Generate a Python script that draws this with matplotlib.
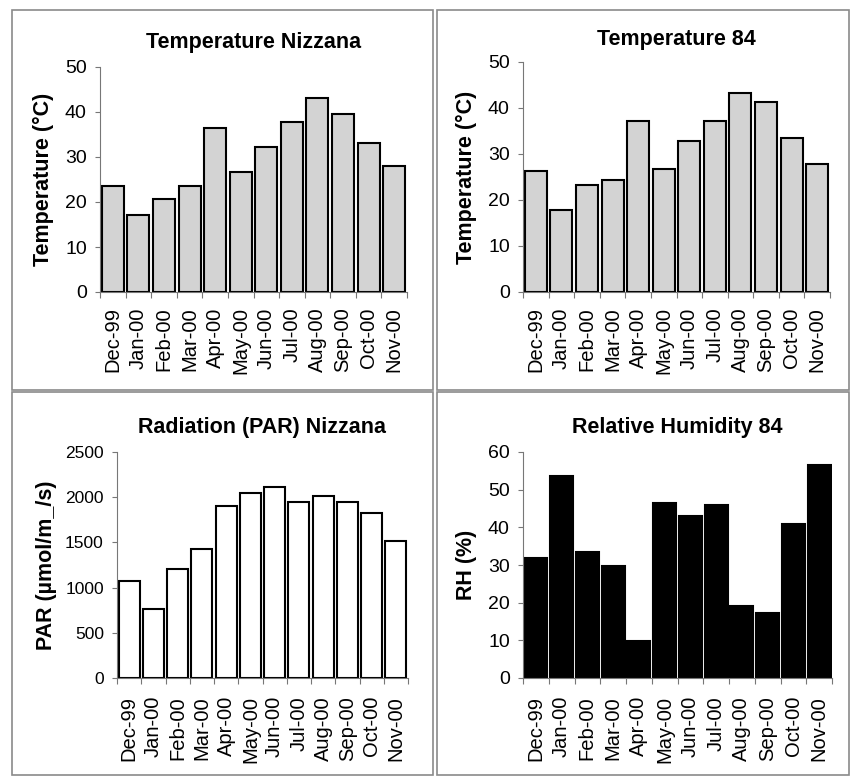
import matplotlib
matplotlib.use("Agg")
import matplotlib.pyplot as plt
from matplotlib.patches import Rectangle

plt.rcParams['font.family'] = ['Liberation Sans', 'DejaVu Sans']

# -------------------- data --------------------
months = ["Dec-99", "Jan-00", "Feb-00", "Mar-00", "Apr-00", "May-00",
          "Jun-00", "Jul-00", "Aug-00", "Sep-00", "Oct-00", "Nov-00"]
temp_nizzana = [23.5, 17.2, 20.6, 23.5, 36.5, 26.6, 32.2, 37.8, 43.2, 39.6, 33.1, 27.9]
temp_84 = [26.4, 17.9, 23.3, 24.3, 37.2, 26.7, 32.9, 37.2, 43.3, 41.3, 33.5, 27.8]
par_nizzana = [1072, 762, 1209, 1427, 1905, 2045, 2108, 1945, 2015, 1945, 1823, 1513]
rh_84 = [31.9, 53.6, 33.5, 29.8, 9.9, 46.4, 43.0, 46.0, 19.0, 17.3, 40.9, 56.6]

W, H = 850, 776
fig = plt.figure(figsize=(W/100, H/100), dpi=100)

def px_axes(x0, y0, x1, y1):
    # pixel box (top-left origin) -> figure axes
    return fig.add_axes([x0/W, 1 - y1/H, (x1-x0)/W, (y1-y0)/H])

def bar_panel(ax, vals, color, title, ylabel, ymax, ystep,
              tick_fs=14, title_pad=14, xpad=11, lpad=8, width=0.86):
    x = range(len(vals))
    ax.bar(x, vals, width=width, color=color, edgecolor='black', linewidth=1.5)
    ax.set_xlim(-0.5, len(vals) - 0.5)
    ax.set_ylim(0, ymax)
    ax.set_yticks(range(0, ymax + 1, ystep))
    ax.set_xticks(list(x))
    ax.set_xticklabels(months, rotation=90, fontsize=14.5)
    ax.tick_params(axis='x', length=0, pad=xpad)
    ax.set_xticks([i + 0.5 for i in range(-1, len(vals))], minor=True)
    ax.tick_params(axis='x', which='minor', length=4, color='#777777', width=0.8)
    ax.tick_params(axis='y', length=3.5, color='#777777', width=0.8, labelsize=tick_fs, pad=6)
    for s in ['top', 'right']:
        ax.spines[s].set_visible(False)
    for s in ['left', 'bottom']:
        ax.spines[s].set_color('#777777')
        ax.spines[s].set_linewidth(0.8)
    ax.set_title(title, fontsize=15.5, fontweight='bold', pad=title_pad)
    ax.set_ylabel(ylabel, fontsize=15.5, fontweight='bold', labelpad=lpad)

ax1 = px_axes(100, 67, 407, 292)
bar_panel(ax1, temp_nizzana, '#d3d3d3', 'Temperature Nizzana', 'Temperature (°C)', 50, 10)

ax2 = px_axes(523, 62, 830, 292)
bar_panel(ax2, temp_84, '#d3d3d3', 'Temperature 84', 'Temperature (°C)', 50, 10, title_pad=12)

ax3 = px_axes(117, 452, 408, 678)
bar_panel(ax3, par_nizzana, 'white', 'Radiation (PAR) Nizzana', 'PAR (µmol/m_/s)', 2500, 500,
          tick_fs=12.5, xpad=13, lpad=6)

ax4 = px_axes(523, 452, 832, 678)
bar_panel(ax4, rh_84, 'black', 'Relative Humidity 84', 'RH (%)', 60, 10, xpad=13, width=0.9)

# panel frames
for (x0, y0, x1, y1) in [(12, 10, 433, 390), (437, 10, 849, 390),
                         (12, 392, 433, 775), (437, 392, 849, 775)]:
    fig.patches.append(Rectangle((x0/W, 1 - y1/H), (x1-x0)/W, (y1-y0)/H,
                                 transform=fig.transFigure, fill=False,
                                 edgecolor='#8a8a8a', linewidth=1.2))

fig.savefig("out.png", dpi=100)
